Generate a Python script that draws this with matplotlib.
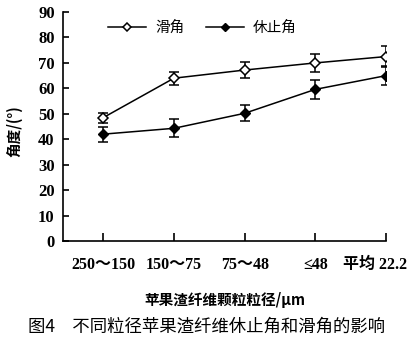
import matplotlib.pyplot as plt
from matplotlib.lines import Line2D

# data
sizes = ['250～150', '150～75', '75～48', '≤48', '平均 22.2']
slide_angle = [48.5, 64, 67.2, 70, 72.5]
slide_err = [2, 2.5, 3, 3.5, 4.2]
repose_angle = [42, 44.3, 50.2, 59.6, 65]
repose_err = [3, 3.5, 3.2, 3.8, 3.8]

num_font = ['Liberation Serif', 'Noto Sans CJK SC']
cjk_font = ['Noto Sans CJK SC', 'DejaVu Sans']

fig = plt.figure(figsize=(4.13, 3.44), dpi=100)
ax = fig.add_axes([0.1525, 0.2994, 0.7821, 0.6656])

x = list(range(len(sizes)))
ax.errorbar(x, slide_angle, yerr=slide_err, color='black', lw=1.1,
            marker='D', ms=5, mfc='white', mec='black', mew=1.1,
            capsize=3.8, elinewidth=1.1, capthick=1.1)
ax.errorbar(x, repose_angle, yerr=repose_err, color='black', lw=1.1,
            marker='D', ms=5, mfc='black', mec='black',
            capsize=3.8, elinewidth=1.1, capthick=1.1)

ax.set_xlim(-0.57, 4)
ax.set_ylim(0, 90)
ax.set_yticks(range(0, 91, 10))
ax.set_xticks(x)
ax.set_xticklabels([])
# x labels drawn by hand so the last one can sit left of its tick
for i, lab in enumerate(sizes):
    dx = -8 if i == len(sizes) - 1 else 0
    ax.annotate(lab, xy=(i, 0), xycoords=('data', 'axes fraction'),
                xytext=(dx, -17), textcoords='offset points',
                ha='center', va='center', family=num_font,
                fontweight='bold', fontsize=11.5)
for t in ax.get_yticklabels():
    t.set_family(num_font)
    t.set_fontweight('bold')
    t.set_fontsize(12)

ax.spines['top'].set_visible(False)
ax.spines['right'].set_visible(False)
ax.spines['left'].set_linewidth(1.2)
ax.spines['bottom'].set_linewidth(1.2)
ax.tick_params(axis='x', direction='in', length=6, width=1.2)
ax.tick_params(axis='y', direction='in', length=4, width=1.2, pad=6)

ax.set_ylabel('角度/(°)', family=cjk_font, fontweight='bold', fontsize=10.5)
ax.yaxis.set_label_coords(-0.125, 0.48)
ax.set_xlabel('苹果渣纤维颗粒粒径/μm', family=cjk_font, fontweight='bold',
              fontsize=10.5, labelpad=33)

handles = [Line2D([], [], color='black', lw=1.1, marker='D', ms=4.5,
                  mfc='white', mec='black', mew=1.1),
           Line2D([], [], color='black', lw=1.1, marker='D', ms=4.5,
                  mfc='black', mec='black')]
ax.legend(handles, ['滑角', '休止角'], loc='upper left',
          bbox_to_anchor=(0.1, 1.02), ncol=2, frameon=False,
          prop={'family': cjk_font, 'size': 10.5},
          handlelength=2.6, columnspacing=1.5, handletextpad=0.6)

fig.text(0.5, 0.05, '图4\u3000不同粒径苹果渣纤维休止角和滑角的影响',
         ha='center', va='center', family=cjk_font, fontsize=12.5)

fig.savefig('out.png', dpi=100)
